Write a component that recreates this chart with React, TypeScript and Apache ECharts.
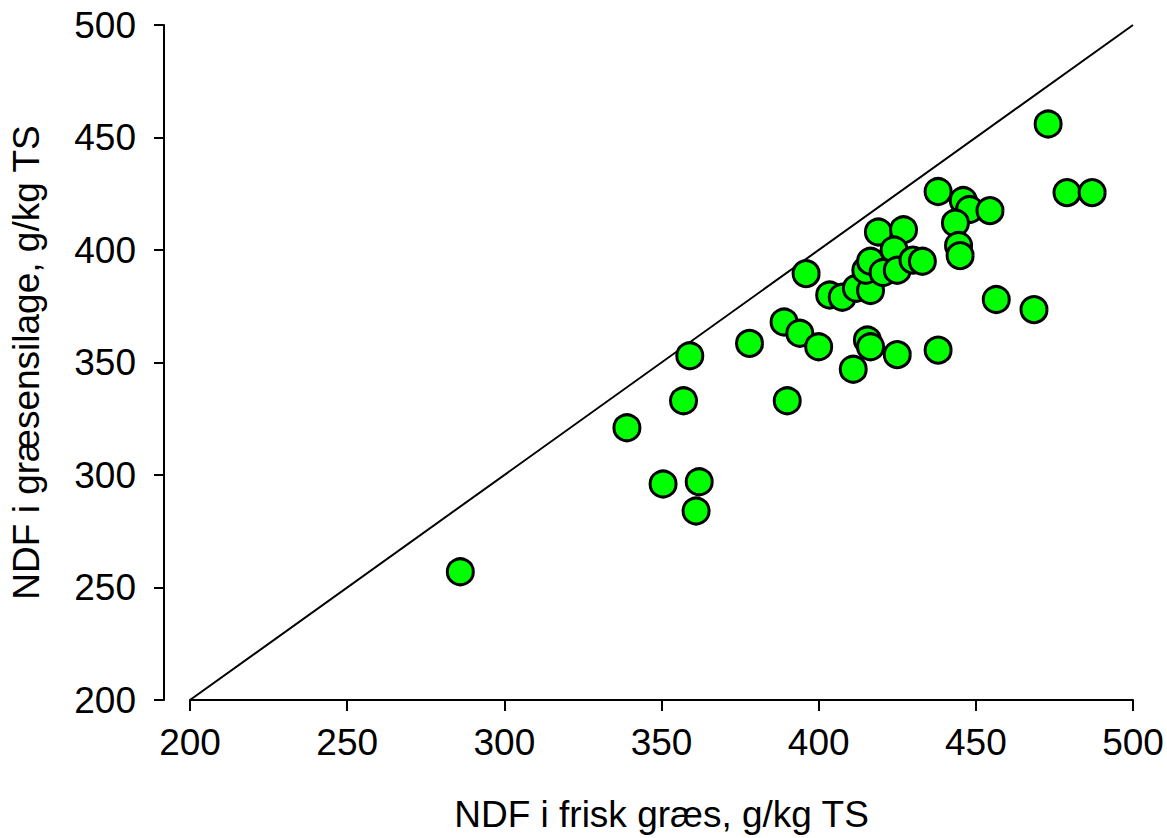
import React, { useEffect, useRef } from "react";
import * as echarts from "echarts";

const freshNDF = [
  286, 339, 350.5, 362, 361, 357, 359, 378, 390, 389, 394, 400, 396, 403.5, 407.5,
  411, 412, 416.5, 415, 416.5, 419, 427, 424, 420.5, 425, 430, 433, 415.5, 416.5,
  425, 438, 438, 446, 448, 454.5, 443.5, 444.5, 445, 456.5, 468.5, 473, 479, 487,
];
const silageNDF = [
  257, 321, 296, 297, 284, 333, 353, 358.5, 333, 368, 363, 357, 389.5, 380, 379,
  347, 383, 382, 391, 395, 408, 409, 400, 390, 391, 395.5, 395, 360, 357,
  353.5, 355.5, 426, 422, 418, 417.5, 412, 402, 397.5, 378, 373.5, 456, 425.5, 425.5,
];
const lineX = [200, 500];
const lineY = [200, 500];
const axisTicks = [200, 250, 300, 350, 400, 450, 500];

const xTitle = "NDF i frisk græs, g/kg TS";
const yTitle = "NDF i græsensilage, g/kg TS";

export default function App() {
  const ref = useRef<HTMLDivElement>(null);
  useEffect(() => {
    const chart = echarts.init(ref.current!, null, { renderer: "svg" });
    const font = "Liberation Sans, Arial, sans-serif";
    chart.setOption({
      animation: false,
      backgroundColor: "#ffffff",
      grid: { left: 187, right: 34, top: 25, bottom: 132 },
      xAxis: {
        type: "value",
        min: axisTicks[0],
        max: axisTicks[axisTicks.length - 1],
        interval: 50,
        name: xTitle,
        nameLocation: "middle",
        nameGap: 96,
        nameTextStyle: { fontSize: 37, color: "#000", fontFamily: font },
        axisLine: { show: true, lineStyle: { color: "#000", width: 2 } },
        axisTick: { show: true, length: 11, lineStyle: { color: "#000", width: 2 } },
        axisLabel: { fontSize: 37, color: "#000", fontFamily: font, margin: 24 },
        splitLine: { show: false },
      },
      yAxis: {
        type: "value",
        min: axisTicks[0],
        max: axisTicks[axisTicks.length - 1],
        interval: 50,
        offset: 26,
        name: yTitle,
        nameLocation: "middle",
        nameGap: 119,
        nameTextStyle: { fontSize: 37, color: "#000", fontFamily: font },
        axisLine: { show: true, lineStyle: { color: "#000", width: 2 } },
        axisTick: { show: true, length: 10, lineStyle: { color: "#000", width: 2 } },
        axisLabel: { fontSize: 37, color: "#000", fontFamily: font, margin: 28 },
        splitLine: { show: false },
      },
      series: [
        {
          type: "line",
          data: lineX.map((x, i) => [x, lineY[i]]),
          showSymbol: false,
          symbol: "none",
          lineStyle: { color: "#000", width: 2 },
          silent: true,
          z: 1,
        },
        {
          type: "scatter",
          data: freshNDF.map((x, i) => [x, silageNDF[i]]),
          symbol: "circle",
          symbolSize: 26,
          itemStyle: { color: "#00ff00", borderColor: "#000", borderWidth: 3, opacity: 1 },
          z: 2,
        },
      ],
    });
    return () => chart.dispose();
  }, []);
  return (
    <div
      ref={ref}
      style={{ position: "absolute", left: 0, top: 0, width: 1167, height: 838 }}
    />
  );
}
